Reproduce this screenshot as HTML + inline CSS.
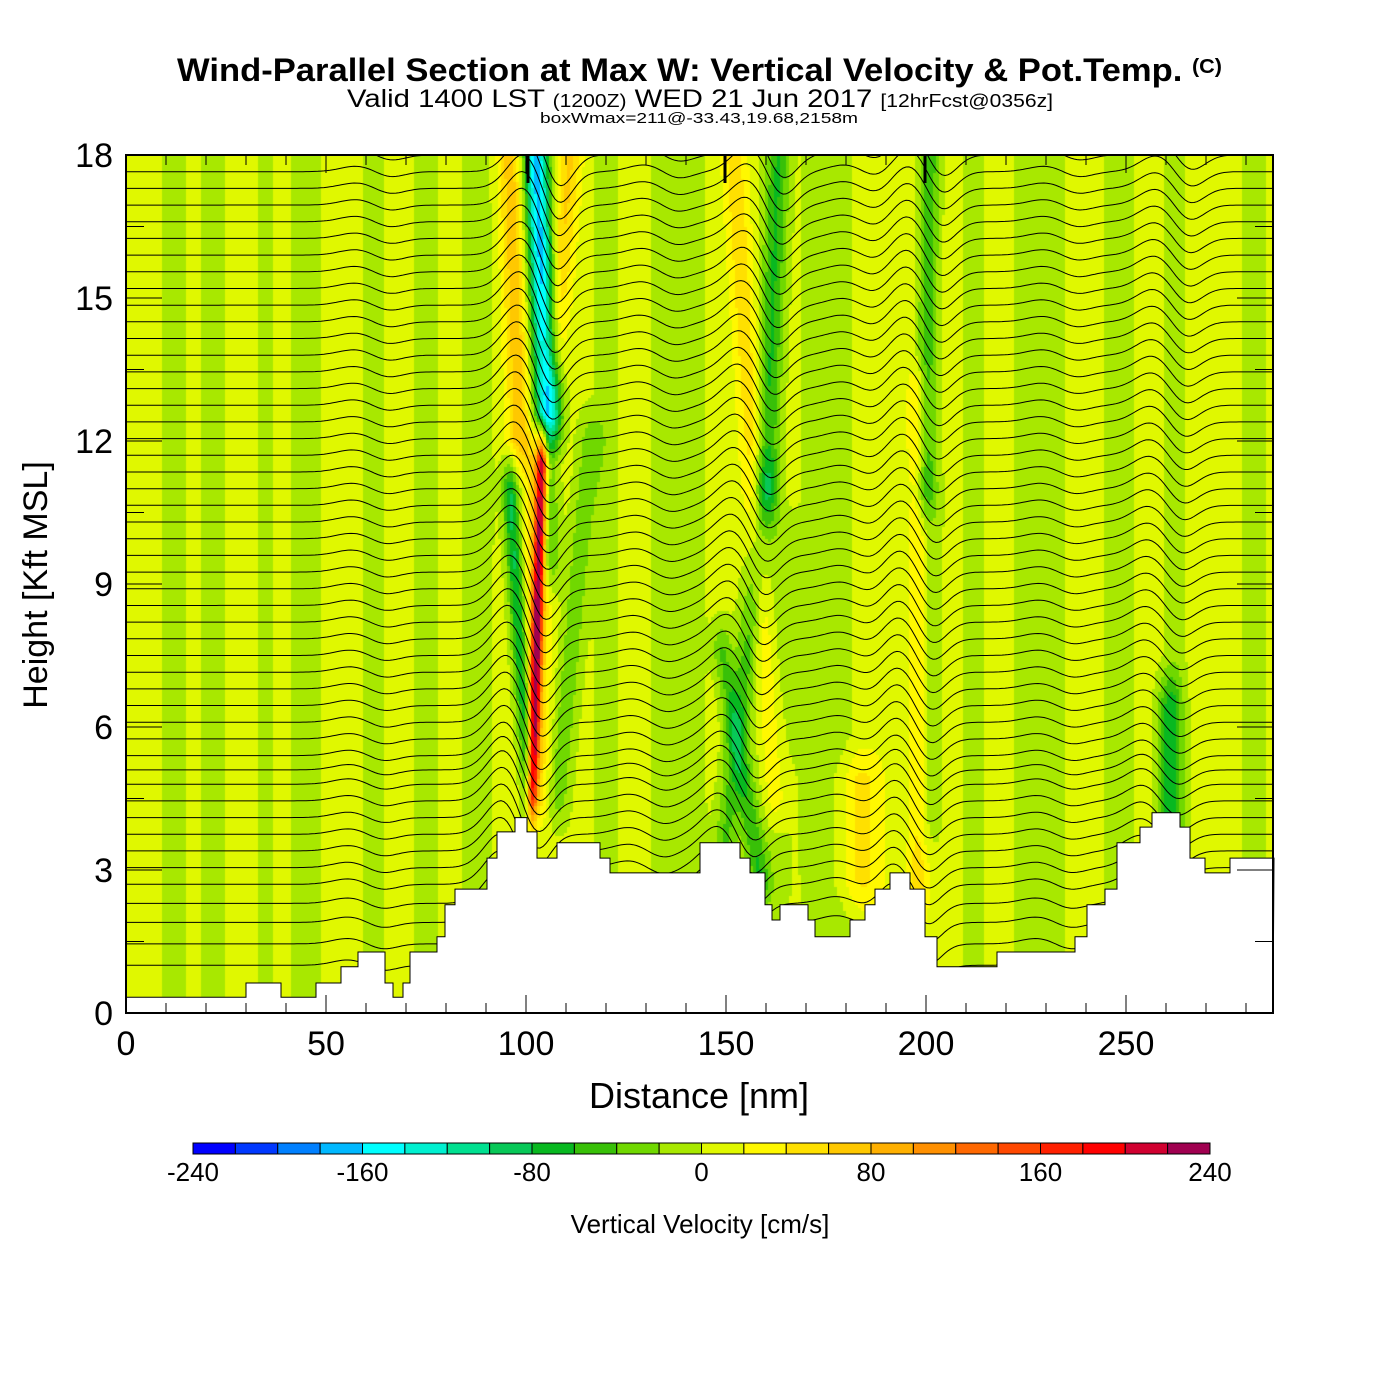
<!DOCTYPE html>
<html><head><meta charset="utf-8">
<style>
html,body{margin:0;padding:0;background:#fff;}
#wrap{position:relative;width:1400px;height:1400px;font-family:"Liberation Sans",Arial,sans-serif;}
#field{position:absolute;left:126px;top:155px;}
#ov{position:absolute;left:0;top:0;}
</style></head>
<body>
<div id="wrap">
<canvas id="field" width="1147" height="858"></canvas>
<svg id="ov" width="1400" height="1400" xmlns="http://www.w3.org/2000/svg">
<text x="177" y="81" font-size="32" font-weight="bold" textLength="1045" lengthAdjust="spacingAndGlyphs">Wind-Parallel Section at Max W: Vertical Velocity &amp; Pot.Temp. <tspan font-size="20" dy="-8">(C)</tspan></text>
<text x="347" y="107" font-size="25" textLength="706" lengthAdjust="spacingAndGlyphs">Valid 1400 LST <tspan font-size="18">(1200Z)</tspan> WED 21 Jun 2017 <tspan font-size="18">[12hrFcst@0356z]</tspan></text>
<text x="540" y="123" font-size="15" textLength="318" lengthAdjust="spacingAndGlyphs">boxWmax=211@-33.43,19.68,2158m</text>
<g id="contours"></g>
<path id="terrain" fill="#fff" stroke="#000" stroke-width="1"/>
<g id="axes"></g>
<rect x="126" y="155" width="1147" height="858" fill="none" stroke="#000" stroke-width="2"/>
<text x="699" y="1108" text-anchor="middle" font-size="36">Distance [nm]</text>
<text transform="translate(47,585) rotate(-90)" text-anchor="middle" font-size="34">Height [Kft MSL]</text>
<g id="cbar"></g>
<text x="700" y="1233" text-anchor="middle" font-size="26">Vertical Velocity [cm/s]</text>
</svg>
</div>
<script>
// ---- data ----
const colorLevels = [-240,-220,-200,-180,-160,-140,-120,-100,-80,-60,-40,-20,0,20,40,60,80,100,120,140,160,180,200,220,240];
const colors = ["#0000ff","#0038ff","#0080ff","#00b8ff","#00ffff","#00f0d0","#00e090","#08c858","#08b820","#38c008","#70d800","#a8e800","#e0f800","#fff800","#ffe000","#ffc800","#ffb000","#ff9000","#ff6800","#ff4800","#ff2000","#ff0000","#d00030","#a00050"];
const cbarLabels = [-240,-160,-80,0,80,160,240];
const xTicks = [0,50,100,150,200,250];
const yTicks = [0,3,6,9,12,15,18];
// terrain step function: start distance (nm) and height (kft)
const terrX = [0,30,38.75,47.5,53.75,58,64.75,66.75,69.25,71,77.75,79.75,82.25,90.25,92.75,97.25,100.25,102.75,107.75,118.5,121,143.5,153.5,156,159.75,161.5,163.5,170.5,172.25,181,184.75,187.25,191,196,199.75,202.75,217.75,237.25,240.25,244.75,247.75,253.5,256.5,263.5,266,269.75,276,287];
const terrH = [0.33,0.63,0.33,0.63,0.97,1.28,0.63,0.33,0.63,1.28,1.6,2.27,2.6,3.25,3.8,4.1,3.8,3.25,3.57,3.25,2.94,3.57,3.25,2.94,2.27,1.95,2.27,1.95,1.6,1.95,2.27,2.6,2.94,2.6,1.6,0.97,1.28,1.6,2.27,2.6,3.57,3.9,4.2,3.9,3.25,2.94,3.25,3.25];
// w plumes: x at bottom, x at top, z bottom, z top, half width nm, amplitude cm/s
const plumeXb = [105.5,101,101.5,102.5,98.5,107,160,149,158.5,162,200,198,261,183.5,108,200,160,106];
const plumeXt = [102.5,96,104,103,96,111,163,160,149,152,201,198,261,183.5,116,200,163,105.5];
const plumeZb = [12.5,4.3,4.5,4.5,12,14,11,3,2.8,4.5,11,2.4,3.5,2.8,4.5,4,2.5,9.5];
const plumeZt = [18,11,11.6,11.6,18,18,18,11,7.6,18,18,13,6.5,4.9,12,11,10,11.5];
const plumeW = [3.2,2,1.3,3,3,3,3,3,2.5,3,2.5,2.5,3,6,3,4,6,2.5];
const plumeA = [-175,-90,190,60,65,55,-70,-50,-50,45,-60,45,-65,40,-40,-25,-22,-60];
// background weak bands: center nm, half width, amplitude
const bandX = [12,22,35,45,62,75,88,120,135,142,172,178,212,225,232,248,262,282];
const bandW = [3,3,2,4,3,3,4,3,4,3,3,4,3,3,3,4,3,3];
const bandA = [-20,-20,-20,-20,-20,-20,-20,-20,-20,-20,-20,-20,-20,-20,-20,-20,-20,-20];
// theta contour base heights (kft) at left edge
const thetaBase = [1.0,1.45,1.9,2.3,2.7,3.05,3.4,3.75,4.1,4.45,4.8,5.1,5.4,5.75,6.1,6.45,6.8,7.15,7.5,7.85,8.2,8.55,8.9,9.25,9.6,9.95,10.3,10.65,11.0,11.35,11.7,12.05,12.4,12.75,13.1,13.45,13.8,14.15,14.5,14.85,15.2,15.55,15.9,16.25,16.6,16.95,17.3,17.65,18.0];
// contour displacement waves: x bottom, x top, amplitude kft
const waveXb = [98,152,196,258,60,130,182,232];
const waveXt = [104,160,200,262,62,134,184,234];
const waveA = [0.75,0.55,0.5,0.35,0.12,0.15,0.15,0.12];

// ---- axes ----
const X0=126, PW=1147, XMAX=286.75, Y0=1013, PH=858, ZMAX=18;
const sx = d => X0 + d/XMAX*PW;
const sy = z => Y0 - z/ZMAX*PH;
const NS="http://www.w3.org/2000/svg";

function wAt(x,z){
  let w=8;
  for(let i=0;i<bandX.length;i++){const d=(x-bandX[i])/bandW[i]; w+=bandA[i]*Math.exp(-d*d);}
  for(let i=0;i<plumeXb.length;i++){
    if(z<plumeZb[i]-1||z>plumeZt[i]+1) continue;
    const t=Math.min(1,Math.max(0,(z-plumeZb[i])/(plumeZt[i]-plumeZb[i])));
    const c=plumeXb[i]+(plumeXt[i]-plumeXb[i])*t;
    let taper=1; if(z<plumeZb[i]) taper=1-(plumeZb[i]-z); if(z>plumeZt[i]) taper=1-(z-plumeZt[i]);
    const d=(x-c)/plumeW[i]; w+=plumeA[i]*taper*Math.exp(-d*d);
  }
  return w;
}
function colorFor(w){
  for(let i=0;i<colors.length;i++){ if(w<colorLevels[i+1]) return colors[Math.max(0,i)]; }
  return colors[colors.length-1];
}
const ctx=document.getElementById('field').getContext('2d');
const cs=3;
for(let py=0;py<PH;py+=cs){
  const z=ZMAX*(1-(py+cs/2)/PH);
  for(let px=0;px<PW;px+=cs){
    const x=XMAX*(px+cs/2)/PW;
    ctx.fillStyle=colorFor(wAt(x,z));
    ctx.fillRect(px,py,cs,cs);
  }
}

const cg=document.getElementById('contours');
function disp(x,z){
  let d=0;
  for(let i=0;i<waveXb.length;i++){
    const t=Math.min(1,Math.max(0,(z-3)/15));
    const c=waveXb[i]+(waveXt[i]-waveXb[i])*t;
    const a=(x-(c-4))/6, b=(x-(c+4))/5;
    d+=waveA[i]*(Math.exp(-a*a)-Math.exp(-b*b));
  }
  return d;
}
thetaBase.forEach((h,k)=>{
  let dstr='';
  for(let x=0;x<=XMAX;x+=0.75){
    const z=h+disp(x,h);
    dstr+=(x===0?'M':'L')+sx(x).toFixed(1)+','+sy(z).toFixed(1);
  }
  const p=document.createElementNS(NS,'path');
  p.setAttribute('d',dstr);p.setAttribute('fill','none');p.setAttribute('stroke','#000');p.setAttribute('stroke-width','1');
  
  
  cg.appendChild(p);
});
const clip=document.createElementNS(NS,'clipPath');clip.setAttribute('id','pc');
const cr=document.createElementNS(NS,'rect');cr.setAttribute('x',X0);cr.setAttribute('y',155);cr.setAttribute('width',PW);cr.setAttribute('height',PH);
clip.appendChild(cr);document.getElementById('ov').appendChild(clip);cg.setAttribute('clip-path','url(#pc)');

let td='M'+sx(0)+','+sy(0);
for(let i=0;i<terrX.length-1;i++){
  td+='L'+sx(terrX[i]).toFixed(1)+','+sy(terrH[i]).toFixed(1)+'L'+sx(terrX[i+1]).toFixed(1)+','+sy(terrH[i]).toFixed(1);
}
td+='L'+sx(XMAX)+','+sy(0)+'Z';
document.getElementById('terrain').setAttribute('d',td);

const ag=document.getElementById('axes');
function line(x1,y1,x2,y2,w,name){
  const l=document.createElementNS(NS,'line');
  l.setAttribute('x1',x1);l.setAttribute('y1',y1);l.setAttribute('x2',x2);l.setAttribute('y2',y2);
  l.setAttribute('stroke','#000');l.setAttribute('stroke-width',w);
  
  
  ag.appendChild(l);
}
function text(x,y,s,size,anchor,name,g){
  const t=document.createElementNS(NS,'text');
  t.setAttribute('x',x);t.setAttribute('y',y);t.setAttribute('font-size',size);t.setAttribute('text-anchor',anchor);
  t.textContent=s;
  
  
  (g||ag).appendChild(t);
}
for(let d=0;d<=280;d+=10){
  const major=d%50===0, len=major?18:10;
  line(sx(d),Y0,sx(d),Y0-len,1,'x-tick');
  line(sx(d),155,sx(d),155+len,1,'x-tick-top');
}
xTicks.forEach(d=>text(sx(d),1055,String(d),34,'middle','x-tick-label'));
for(let z=0;z<=18;z+=1.5){
  const major=z%3===0, len=major?36:18;
  line(X0,sy(z),X0+len,sy(z),1,'y-tick');
  line(X0+PW,sy(z),X0+PW-len,sy(z),1,'y-tick-right');
}
yTicks.forEach(z=>text(113,sy(z)+12,String(z),34,'end','y-tick-label'));
[100.5,149.75,199.75].forEach(d=>line(sx(d),155,sx(d),183,3,'wmax-marker'));

const cb=document.getElementById('cbar');
const cbX=193, cbW=1017, cbY=1143, cbH=11, seg=cbW/colors.length;
colors.forEach((c,i)=>{
  const r=document.createElementNS(NS,'rect');
  r.setAttribute('x',cbX+i*seg);r.setAttribute('y',cbY);r.setAttribute('width',seg);r.setAttribute('height',cbH);
  r.setAttribute('fill',c);r.setAttribute('stroke','#000');r.setAttribute('stroke-width','1');
  
  
  cb.appendChild(r);
});
cbarLabels.forEach(v=>{
  const x=cbX+(v-colorLevels[0])/(colorLevels[colorLevels.length-1]-colorLevels[0])*cbW;
  text(x,1181,String(v),26,'middle','colorbar-label',cb);
});
</script>
</body></html>
